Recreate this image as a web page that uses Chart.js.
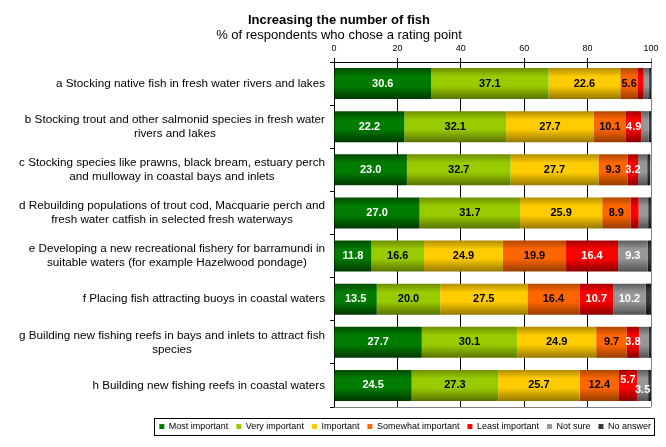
<!DOCTYPE html>
<html>
<head>
<meta charset="utf-8">
<script src="https://cdn.jsdelivr.net/npm/chart.js@4.4.1/dist/chart.umd.min.js"></script>
<style>
  html, body { margin: 0; padding: 0; background: #fff; }
  #wrap { width: 666px; height: 447px; }
</style>
</head>
<body>
<div id="wrap"><canvas id="fishChart"></canvas></div>
<script>
// categories (one array of lines per statement)
const categories = [
    ['a Stocking native fish in fresh water rivers and lakes'],
    ['b Stocking trout and other salmonid species in fresh water', 'rivers and lakes'],
    ['c Stocking species like prawns, black bream, estuary perch', 'and mulloway in coastal bays and inlets'],
    ['d Rebuilding populations of trout cod, Macquarie perch and', 'fresh water catfish in selected fresh waterways'],
    ['e Developing a new recreational fishery for barramundi in', 'suitable waters (for example Hazelwood pondage)'],
    ['f Placing fish attracting buoys in coastal waters'],
    ['g Building new fishing reefs in bays and inlets to attract fish', 'species'],
    ['h Building new fishing reefs in coastal waters']
];

const seriesNames = ['Most important', 'Very important', 'Important', 'Somewhat important',
    'Least important', 'Not sure', 'No answer'];

// % of respondents (unlabelled slivers estimated)
const mostImportant     = [30.6, 22.2, 23.0, 27.0, 11.8, 13.5, 27.7, 24.5];
const veryImportant     = [37.1, 32.1, 32.7, 31.7, 16.6, 20.0, 30.1, 27.3];
const important         = [22.6, 27.7, 27.7, 25.9, 24.9, 27.5, 24.9, 25.7];
const somewhatImportant = [5.6, 10.1, 9.3, 8.9, 19.9, 16.4, 9.7, 12.4];
const leastImportant    = [1.8, 4.9, 3.2, 2.6, 16.4, 10.7, 3.8, 5.7];
const notSure           = [1.7, 2.3, 2.9, 3.0, 9.3, 10.2, 3.0, 3.5];
const noAnswer          = [0.6, 0.7, 1.0, 0.9, 1.1, 1.7, 0.8, 0.9];

const xTickMin = 0, xTickMax = 100, xTickStep = 20;

const seriesValues = [mostImportant, veryImportant, important, somewhatImportant,
    leastImportant, notSure, noAnswer];

// styles
const FONT = '"Liberation Sans", Arial, sans-serif';
const BAR_PCT = 0.72;
const LABEL_MIN = 3.1;
const palette = [
    { top: '#004a00', mid: '#007d00', bottom: '#003800', text: '#fff' },
    { top: '#6e8f00', mid: '#99cc00', bottom: '#5a7300', text: '#000' },
    { top: '#b08c00', mid: '#ffcc00', bottom: '#967800', text: '#000' },
    { top: '#b04700', mid: '#ff6600', bottom: '#963c00', text: '#000' },
    { top: '#a00000', mid: '#ff0000', bottom: '#880000', text: '#fff' },
    { top: '#5c5c5c', mid: '#979797', bottom: '#525252', text: '#fff' },
    { top: '#151515', mid: '#3a3a3a', bottom: '#101010', text: '#fff' }
];

Chart.defaults.font.family = FONT;
Chart.defaults.color = '#000';

function barFill(p) {
    return function (ctx) {
        const y = ctx.chart.scales.y;
        if (ctx.type !== 'data' || !y || !y.ticks || y.ticks.length < 2) return p.mid;
        const c = y.getPixelForValue(ctx.dataIndex);
        const half = Math.abs(y.getPixelForValue(1) - y.getPixelForValue(0)) * BAR_PCT / 2;
        if (!isFinite(c) || !isFinite(half) || half <= 0) return p.mid;
        const g = ctx.chart.ctx.createLinearGradient(0, c - half, 0, c + half);
        g.addColorStop(0, p.top);
        g.addColorStop(0.28, p.mid);
        g.addColorStop(0.58, p.mid);
        g.addColorStop(1, p.bottom);
        return g;
    };
}

// title, category labels, frame, value labels, legend box
const decorations = {
    id: 'decorations',
    afterLayout(chart) {
        const lg = chart.legend;
        if (lg) {
            lg.left += 8; lg.right += 8;
            lg.top += 7; lg.bottom += 7;
        }
    },
    afterDatasetsDraw(chart) {
        const ctx = chart.ctx;
        ctx.save();
        ctx.font = 'bold 11px ' + FONT;
        ctx.textAlign = 'center';
        ctx.textBaseline = 'middle';
        categories.forEach((_, row) => {
            const items = [];
            chart.data.datasets.forEach((ds, di) => {
                const v = ds.data[row];
                if (v < LABEL_MIN) return;
                const bar = chart.getDatasetMeta(di).data[row];
                const text = v.toFixed(1);
                items.push({ text, x: (bar.x + bar.base) / 2, y: bar.y,
                    w: ctx.measureText(text).width, color: palette[di].text });
            });
            for (let k = 1; k < items.length; k++) {
                const a = items[k - 1], b = items[k];
                if (b.x - b.w / 2 < a.x + a.w / 2 + 1) {
                    a.y -= 5; b.y += 5;
                }
            }
            items.forEach(it => {
                ctx.fillStyle = it.color;
                ctx.fillText(it.text, it.x, it.y);
            });
        });
        ctx.restore();
    },
    afterDraw(chart) {
        const ctx = chart.ctx;
        const area = chart.chartArea;
        const ys = chart.scales.y;
        ctx.save();

        // titles
        ctx.fillStyle = '#000';
        ctx.textAlign = 'center';
        ctx.textBaseline = 'middle';
        ctx.font = 'bold 13px ' + FONT;
        ctx.fillText('Increasing the number of fish', 339, 20);
        ctx.font = '13px ' + FONT;
        ctx.fillText('% of respondents who chose a rating point', 339, 35);

        // category labels: block right-aligned, lines centred inside the block
        ctx.font = '11.7px ' + FONT;
        categories.forEach((lines, i) => {
            const w = Math.max(...lines.map(l => ctx.measureText(l).width));
            const cx = ys.right - 9 - w / 2;
            const cy = ys.getPixelForValue(i);
            lines.forEach((l, j) => {
                ctx.fillText(l, cx, cy + (j - (lines.length - 1) / 2) * 14);
            });
        });

        // bottom edge of plot area
        ctx.strokeStyle = '#808080';
        ctx.lineWidth = 1;
        ctx.beginPath();
        ctx.moveTo(area.left, Math.round(area.bottom) + 0.5);
        ctx.lineTo(area.right, Math.round(area.bottom) + 0.5);
        ctx.stroke();

        // legend frame
        const hb = chart.legend && chart.legend.legendHitBoxes;
        if (hb && hb.length) {
            const l = hb[0].left - 5;
            const last = hb[hb.length - 1];
            const r = last.left + last.width + 3;
            const t = hb[0].top - 4;
            const b = hb[0].top + hb[0].height + 4;
            ctx.strokeStyle = '#000';
            ctx.strokeRect(Math.round(l) + 0.5, Math.round(t) + 0.5, Math.round(r - l), Math.round(b - t));
        }
        ctx.restore();
    }
};

new Chart(document.getElementById('fishChart'), {
    type: 'bar',
    data: {
        labels: categories,
        datasets: seriesNames.map((name, i) => ({
            label: name,
            data: seriesValues[i],
            backgroundColor: barFill(palette[i]),
            borderWidth: 0,
            barPercentage: BAR_PCT,
            categoryPercentage: 1
        }))
    },
    options: {
        indexAxis: 'y',
        responsive: true,
        maintainAspectRatio: false,
        animation: false,
        layout: { padding: { top: 0, left: 0, right: 15, bottom: 13 } },
        scales: {
            x: {
                position: 'top',
                stacked: true,
                min: xTickMin,
                max: xTickMax,
                ticks: { stepSize: xTickStep, font: { size: 9 }, color: '#000', padding: 4 },
                grid: {
                    color: c => (c.tick && c.tick.value === xTickMax ? '#808080' : '#000'),
                    lineWidth: 1,
                    tickLength: 4,
                    drawOnChartArea: true
                },
                border: { color: '#000' },
                afterFit(s) { s.height = 62; }
            },
            y: {
                stacked: true,
                ticks: { display: false },
                grid: { drawOnChartArea: false, tickLength: 4, color: '#000', offset: true },
                border: { color: '#000' },
                afterFit(s) { s.width = 334; }
            }
        },
        plugins: {
            legend: {
                position: 'bottom',
                align: 'end',
                labels: {
                    boxWidth: 5,
                    boxHeight: 5,
                    padding: 8,
                    color: '#000',
                    font: { size: 9 },
                    generateLabels(chart) {
                        return Chart.defaults.plugins.legend.labels.generateLabels(chart).map((item, i) => {
                            item.fillStyle = palette[i].mid;
                            item.strokeStyle = palette[i].mid;
                            item.lineWidth = 0;
                            return item;
                        });
                    }
                }
            },
            tooltip: { enabled: false }
        }
    },
    plugins: [decorations]
});
</script>
</body>
</html>
